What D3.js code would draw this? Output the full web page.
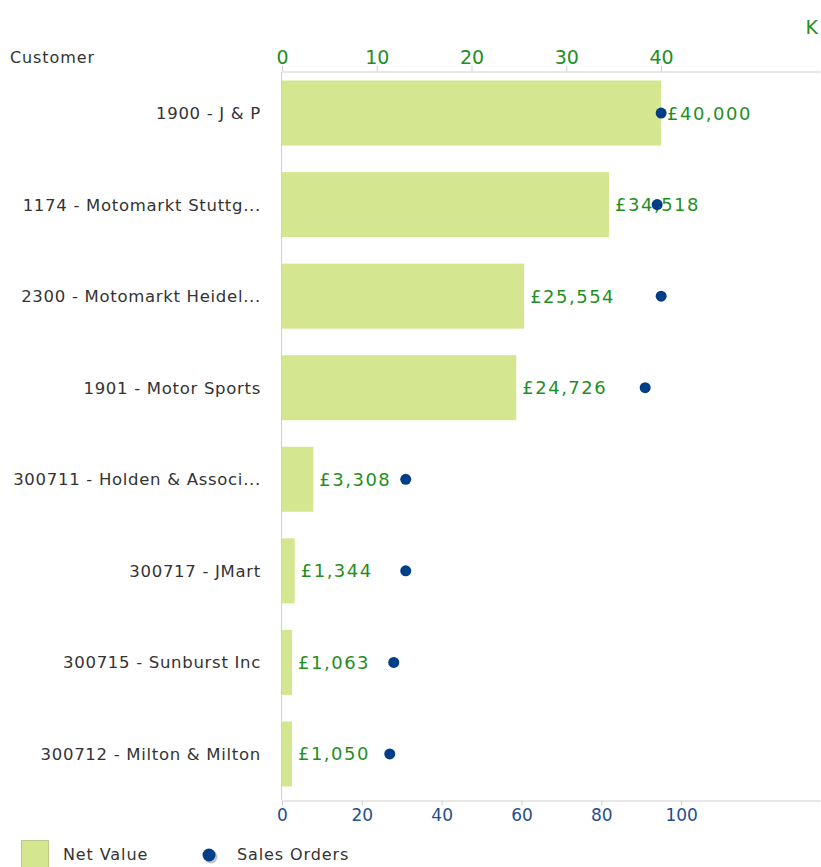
<!DOCTYPE html>
<html>
<head>
    <script src="https://d3js.org/d3.v7.min.js"></script>
    <style>
        body { margin: 0; background: #fff; }
        text { font-family: "DejaVu Sans", Verdana, sans-serif; }
    </style>
</head>
<body>
    <div id="chart"></div>

    <script>

        // data
        const customers = [
            "1900 - J & P",
            "1174 - Motomarkt Stuttg...",
            "2300 - Motomarkt Heidel...",
            "1901 - Motor Sports",
            "300711 - Holden & Associ...",
            "300717 - JMart",
            "300715 - Sunburst Inc",
            "300712 - Milton & Milton"
        ];
        const netValue = [40000, 34518, 25554, 24726, 3308, 1344, 1063, 1050];
        const salesOrders = [95, 94, 95, 91, 31, 31, 28, 27];
        const netTicks = [0, 10000, 20000, 30000, 40000];
        const orderTicks = [0, 20, 40, 60, 80, 100];
        const legendLabels = ["Net Value", "Sales Orders"];

        const width = 821, height = 867;
        const barColor = "#d4e68f";
        const dotColor = "#003f87";
        const green = "#1f8f1f";
        const blue = "#1f4f8f";
        const grid = "#d0d0d0";

        const rows = customers.map((c, i) => ({name: c, net: netValue[i], orders: salesOrders[i]}));

        const svg = d3.select("#chart")
            .append("svg")
            .attr("width", width)
            .attr("height", height);

        // scales
        const xNet = d3.scaleLinear().domain([0, 56780]).range([282, 820]);
        const xOrd = d3.scaleLinear().domain([0, 134.8]).range([282, 820]);
        const y = d3.scaleBand().domain(customers).range([72, 795])
            .paddingInner(0.29).paddingOuter(0.093);

        // top axis (net value, K)
        const topAxis = svg.append("g")
            .attr("transform", "translate(0,71.5)")
            .call(d3.axisTop(xNet).tickValues(netTicks).tickFormat(d => d / 1000).tickSize(6).tickSizeOuter(0));
        topAxis.select(".domain").attr("stroke", grid);
        topAxis.selectAll(".tick line").attr("stroke", grid);
        topAxis.selectAll(".tick text")
            .attr("fill", green)
            .attr("font-size", 19)
            .attr("y", -8)
            .style("font-family", "DejaVu Sans");

        // bottom axis (sales orders)
        const bottomAxis = svg.append("g")
            .attr("transform", "translate(0,800.5)")
            .call(d3.axisBottom(xOrd).tickValues(orderTicks).tickSize(5).tickSizeOuter(0));
        bottomAxis.select(".domain").attr("stroke", grid);
        bottomAxis.selectAll(".tick line").attr("stroke", grid);
        bottomAxis.selectAll(".tick text")
            .attr("fill", blue)
            .attr("font-size", 17)
            .attr("y", 8)
            .style("font-family", "DejaVu Sans");

        // left axis line
        svg.append("line")
            .attr("x1", 281.5).attr("x2", 281.5)
            .attr("y1", 72).attr("y2", 800)
            .attr("stroke", grid);

        // bars
        svg.selectAll("rect.bar")
            .data(rows)
            .enter()
            .append("rect")
            .attr("class", "bar")
            .attr("x", xNet(0))
            .attr("y", d => y(d.name))
            .attr("width", d => xNet(d.net) - xNet(0))
            .attr("height", y.bandwidth())
            .attr("fill", barColor);

        // value labels
        svg.selectAll("text.val")
            .data(rows)
            .enter()
            .append("text")
            .attr("class", "val")
            .attr("x", d => xNet(d.net) + 6)
            .attr("y", d => y(d.name) + y.bandwidth() / 2)
            .attr("dy", "0.36em")
            .attr("fill", green)
            .attr("font-size", 18)
            .attr("letter-spacing", 1.5)
            .text(d => "£" + d3.format(",")(d.net));

        // dots
        svg.selectAll("circle.dot")
            .data(rows)
            .enter()
            .append("circle")
            .attr("class", "dot")
            .attr("cx", d => xOrd(d.orders))
            .attr("cy", d => y(d.name) + y.bandwidth() / 2)
            .attr("r", 5.5)
            .attr("fill", dotColor);

        // category labels
        svg.selectAll("text.cat")
            .data(rows)
            .enter()
            .append("text")
            .attr("class", "cat")
            .attr("x", 261)
            .attr("y", d => y(d.name) + y.bandwidth() / 2)
            .attr("dy", "0.36em")
            .attr("text-anchor", "end")
            .attr("fill", "#333")
            .attr("font-size", 16.5)
            .attr("letter-spacing", 0.7)
            .text(d => d.name);

        // titles
        svg.append("text")
            .attr("x", 10).attr("y", 63)
            .attr("fill", "#333")
            .attr("font-size", 16)
            .attr("letter-spacing", 0.9)
            .text("Customer");

        svg.append("text")
            .attr("x", 818).attr("y", 34)
            .attr("text-anchor", "end")
            .attr("fill", green)
            .attr("font-size", 19)
            .text("K");

        // legend
        const legend = svg.append("g");
        legend.append("rect")
            .attr("x", 21.5).attr("y", 840.5)
            .attr("width", 27).attr("height", 30)
            .attr("fill", barColor)
            .attr("stroke", "#b9c98c");
        legend.append("text")
            .attr("x", 63).attr("y", 860)
            .attr("fill", "#333")
            .attr("font-size", 16)
            .attr("letter-spacing", 0.9)
            .text(legendLabels[0]);
        legend.append("circle")
            .attr("cx", 211).attr("cy", 857).attr("r", 6.5)
            .attr("fill", "#999").attr("opacity", 0.6);
        legend.append("circle")
            .attr("cx", 209).attr("cy", 855).attr("r", 6.5)
            .attr("fill", dotColor);
        legend.append("text")
            .attr("x", 237).attr("y", 860)
            .attr("fill", "#333")
            .attr("font-size", 16)
            .attr("letter-spacing", 0.9)
            .text(legendLabels[1]);

    </script>
</body>
</html>
